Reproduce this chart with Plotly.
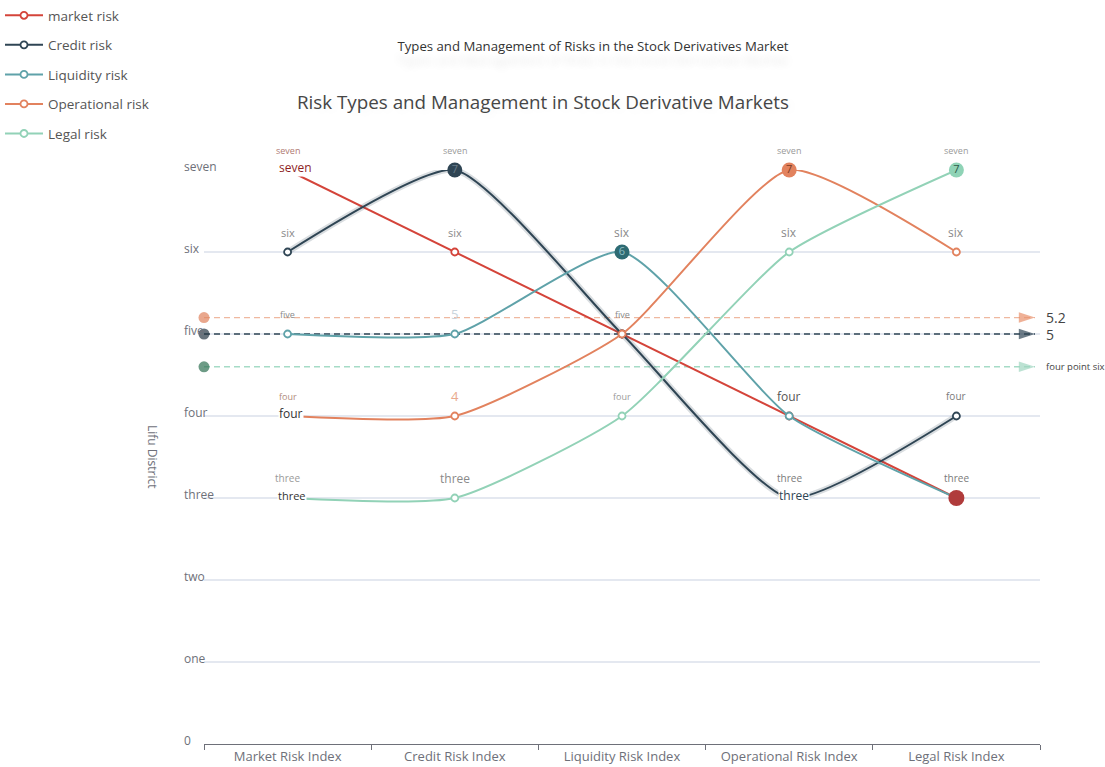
import plotly.graph_objects as go

# ---- data -------------------------------------------------------------
categories = ["Market Risk Index", "Credit Risk Index", "Liquidity Risk Index",
              "Operational Risk Index", "Legal Risk Index"]
level_names = ["0", "one", "two", "three", "four", "five", "six", "seven"]

market_risk = [7, 6, 5, 4, 3]
credit_risk = [6, 7, 5, 3, 4]
liquidity_risk = [5, 5, 6, 4, 3]
operational_risk = [4, 4, 5, 7, 6]
legal_risk = [3, 3, 4, 6, 7]

series_names = ["market risk", "Credit risk", "Liquidity risk",
                "Operational risk", "Legal risk"]

# ---- styling ----------------------------------------------------------
FONT = "'Open Sans', Roboto, sans-serif"
WORDS = {0: "zero", 1: "one", 2: "two", 3: "three", 4: "four",
         5: "five", 6: "six", 7: "seven", 8: "eight", 9: "nine"}

series = [
    dict(name=series_names[0], values=market_risk, color="#d4443a", shape="linear"),
    dict(name=series_names[1], values=credit_risk, color="#2f4554", shape="spline", glow=True),
    dict(name=series_names[2], values=liquidity_risk, color="#5fa2a9", shape="spline"),
    dict(name=series_names[3], values=operational_risk, color="#e2825e", shape="spline"),
    dict(name=series_names[4], values=legal_risk, color="#92d2b7", shape="spline"),
]

# per point label: (kind, font size, colour); kind "w" = word, "d" = digit, None = hidden
label_styles = [
    [("w", 9, "#b07a72"), ("w", 11, "#8a8a8a"), ("w", 9, "#8a8a8a"), None, ("w", 10, "#7a7a7a")],
    [("w", 11, "#8a8a8a"), ("w", 9, "#9a9a9a"), None, ("w", 10, "#7a7a7a"), ("w", 10, "#7a7a7a")],
    [("w", 9, "#8a8a8a"), ("d", 13, "#c9d4dc"), ("w", 12, "#8a8a8a"), ("w", 12, "#555555"), None],
    [("w", 9, "#b08a7a"), ("d", 13, "#e9a98d"), None, ("w", 9, "#9a9a9a"), ("w", 12, "#8a8a8a")],
    [("w", 10, "#9a9a9a"), ("w", 12, "#8a8a8a"), ("w", 9, "#9a9a9a"), ("w", 12, "#8a8a8a"), ("w", 9, "#9a9a9a")],
]

# extreme-value highlights: (series index, "max"/"min", style)
highlights = [
    (0, "max", dict(kind="text", color="#8e1f1f", size=12, dx=8)),
    (0, "min", dict(kind="dot", color="#b03b3b", text_color="#b03b3b", size=16)),
    (1, "max", dict(kind="dot", color="#2f4554", text_color="#6b7d8a", size=15)),
    (1, "min", dict(kind="text", color="#2f4554", size=12, dx=5)),
    (2, "max", dict(kind="dot", color="#2e6b73", text_color="#8fbfc4", size=15)),
    (3, "max", dict(kind="dot", color="#e2825e", text_color="#7a3a22", size=15)),
    (3, "min", dict(kind="text", color="#333333", size=12, dx=3)),
    (4, "max", dict(kind="dot", color="#8fd3b6", text_color="#2e5a48", size=15)),
    (4, "min", dict(kind="text", color="#333333", size=11, dx=4)),
]

# average lines: (series index, start dot colour, dash colour, arrow colour, label size, spelled)
average_lines = [
    (3, "#e0825c", "#efb89f", "#e8906b", 14, False),
    (1, "#263845", "#2f4554", "#2f4554", 14, False),
    (4, "#2f7152", "#a5dbc6", "#9fd6c0", 9.5, True),
]

xs = list(range(len(categories)))


def spell(v):
    whole = int(v)
    frac = round((v - whole) * 10)
    if frac == 0:
        return WORDS[whole]
    return f"{WORDS[whole]} point {WORDS[frac]}"


fig = go.Figure()

# average (mark) lines drawn first, underneath the series
for idx, dot_c, dash_c, arrow_c, lab_size, spelled in average_lines:
    vals = series[idx]["values"]
    avg = sum(vals) / len(vals)
    fig.add_trace(go.Scatter(
        x=[-0.5, 4.47], y=[avg, avg], mode="lines",
        line=dict(color=dash_c, width=1.4, dash="6px,4px"),
        hoverinfo="skip", showlegend=False, cliponaxis=False))
    fig.add_trace(go.Scatter(
        x=[-0.5, 4.47], y=[avg, avg], mode="markers",
        marker=dict(symbol=["circle", "arrow"], angle=[0, 90],
                    size=[11, 17], color=[dot_c, arrow_c], line=dict(width=0)),
        hoverinfo="skip", showlegend=False, cliponaxis=False))
    fig.add_annotation(
        x=4.5, y=avg, xref="x", yref="y", showarrow=False, xanchor="left",
        xshift=4, text=spell(avg) if spelled else f"{avg:g}",
        font=dict(size=lab_size, color="#444444", family=FONT))

# series lines
for i, s in enumerate(series):
    line_kw = dict(color=s["color"], width=2, shape=s["shape"])
    if s["shape"] == "spline":
        line_kw["smoothing"] = 0.55
    if s.get("glow"):
        fig.add_trace(go.Scatter(
            x=xs, y=s["values"], mode="lines",
            line=dict(color="rgba(47,69,84,0.18)", width=6, shape="spline", smoothing=0.55),
            hoverinfo="skip", showlegend=False))
    fig.add_trace(go.Scatter(
        x=xs, y=s["values"], name=s["name"], mode="lines+markers",
        line=line_kw, legendgroup=s["name"],
        marker=dict(symbol="circle", size=7, color="white",
                    line=dict(color=s["color"], width=1.8)),
        cliponaxis=False))

# value labels above each point
for i, s in enumerate(series):
    for j, v in enumerate(s["values"]):
        st = label_styles[i][j]
        if st is None:
            continue
        kind, size, color = st
        fig.add_annotation(
            x=j, y=v, xref="x", yref="y", showarrow=False, yshift=20,
            text=WORDS[v] if kind == "w" else str(v),
            font=dict(size=size, color=color, family=FONT))

# extreme-value highlights
for idx, which, st in highlights:
    vals = series[idx]["values"]
    target = max(vals) if which == "max" else min(vals)
    j = vals.index(target)
    if st["kind"] == "dot":
        fig.add_trace(go.Scatter(
            x=[j], y=[target], mode="markers+text", text=[str(target)],
            textposition="middle center",
            textfont=dict(size=11, color=st["text_color"], family=FONT),
            marker=dict(size=st["size"], color=st["color"], line=dict(width=0)),
            hoverinfo="skip", showlegend=False, cliponaxis=False))
    else:
        fig.add_annotation(
            x=j, y=target, xref="x", yref="y", showarrow=False,
            xshift=st["dx"], yshift=3, text=WORDS[target], bgcolor="white",
            borderpad=0,
            font=dict(size=st["size"], color=st["color"], family=FONT))

# headings and axis name
fig.add_annotation(
    x=(543 - 183) / 857, y=(744 - 102) / 574, xref="paper", yref="paper",
    xanchor="center", yanchor="middle",
    showarrow=False, text="Risk Types and Management in Stock Derivative Markets",
    font=dict(size=18.8, color="#464646", family=FONT,
              shadow="4px 2px 10px rgba(0,0,0,0.05)"))
fig.add_annotation(
    x=-30 / 857, y=3.5, xref="paper", yref="y", showarrow=False, textangle=90,
    xanchor="center", yanchor="middle",
    text="Lifu District", font=dict(size=12, color="#6e7079", family=FONT))

fig.update_layout(
    width=1105, height=767,
    margin=dict(l=183, r=65, t=170, b=23, autoexpand=False),
    paper_bgcolor="white", plot_bgcolor="white",
    font=dict(family=FONT),
    title=dict(text="Types and Management of Risks in the Stock Derivatives Market",
               x=593 / 1105, y=1 - 46 / 767, xref="container", yref="container",
               xanchor="center", yanchor="middle",
               font=dict(size=13.2, color="#333333", family=FONT,
                         shadow="0px 14px 9px rgba(0,0,0,0.12)")),
    legend=dict(x=0, y=1, xref="container", yref="container",
                xanchor="left", yanchor="top", traceorder="grouped",
                tracegroupgap=9, itemwidth=38, bgcolor="rgba(0,0,0,0)",
                font=dict(size=13.5, color="#555555", family=FONT)),
    xaxis=dict(domain=[21 / 857, 1], range=[-0.5, 4.5], automargin=False,
               tickmode="array", tickvals=xs, ticktext=categories, ticks="",
               showgrid=False, zeroline=False, showline=True,
               linecolor="#6e7079", linewidth=1,
               tickfont=dict(size=13, color="#6e7079", family=FONT),
               minor=dict(tickmode="array", tickvals=[k - 0.5 for k in range(len(categories) + 1)],
                          ticks="outside", ticklen=5, tickcolor="#6e7079", showgrid=False)),
    yaxis=dict(range=[0, 7], anchor="free", position=0, side="right", automargin=False,
               tickmode="array", tickvals=list(range(len(level_names))), ticktext=level_names,
               ticks="", ticklabelshift=-3,
               showgrid=True, gridcolor="#e4e8f0", gridwidth=1.5,
               zeroline=False, showline=False,
               tickfont=dict(size=12, color="#6e7079", family=FONT)),
    showlegend=True,
)

fig.write_html("out.html")
